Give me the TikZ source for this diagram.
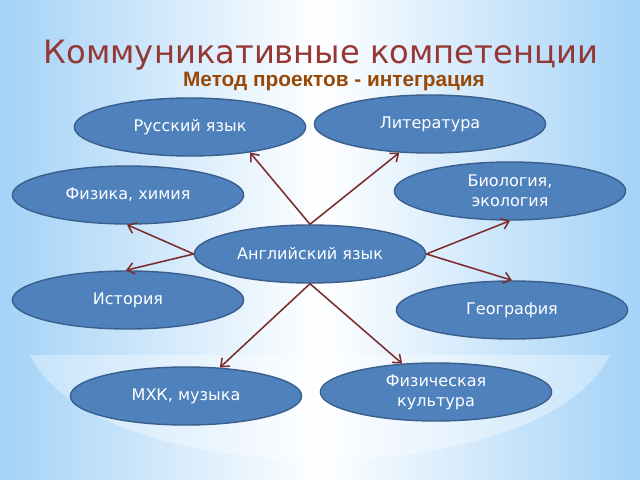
\documentclass[tikz,border=0pt]{standalone}
\usepackage{fontspec}
\setmainfont{DejaVu Sans}
\newfontfamily\subfont{Liberation Sans}
\usepackage{tikz}
\usetikzlibrary{arrows.meta,shapes.geometric}

\definecolor{skyblue}{HTML}{A3D2F7}
\definecolor{ovalfill}{HTML}{4F81BD}
\definecolor{ovaldraw}{HTML}{3A5F8C}
\definecolor{titlered}{HTML}{953735}
\definecolor{subbrown}{HTML}{984807}
\definecolor{arrowred}{HTML}{7B2C2C}

\tikzset{
  oval/.style={ellipse, fill=ovalfill, draw=ovaldraw, line width=1pt,
    minimum width=5.78cm, minimum height=1.45cm, inner sep=0pt,
    text=white, font=\fontsize{11.4}{14}\selectfont, align=center},
  link/.style={draw=arrowred, line width=1.1pt, -{Straight Barb[length=5pt,width=8pt]}}
}

\begin{document}
\begin{tikzpicture}[x=0.025cm, y=-0.025cm]
      \useasboundingbox (0, 0) rectangle (640, 480);
      % background
      \shade[left color=skyblue, right color=skyblue, middle color=white] (0, 0) rectangle (640, 480);
      \shade[left color=skyblue!60, right color=skyblue!60, middle color=white]
        (30, 355) .. controls (100, 495) and (540, 495) .. (610, 355) -- cycle;
      % titles
      \node[text=titlered, font=\fontsize{22.9}{27}\selectfont, inner sep=0pt, text depth=0pt, anchor=base]
        (title) at (321, 64) {Коммуникативные компетенции};
      \node[text=subbrown, font=\subfont\bfseries\fontsize{14.8}{17}\selectfont, inner sep=0pt, anchor=base]
        (sub) at (334, 86) {Метод проектов - интеграция};
      % ovals
      \node[oval] (rus) at (190, 127) {Русский язык};
      \node[oval] (lit) at (430, 124) {Литература};
      \node[oval] (phys) at (128, 195) {Физика, химия};
      \node[oval] (bio) at (510, 191) {Биология,\\экология};
      \node[oval] (eng) at (310, 254) {Английский язык};
      \node[oval] (hist) at (128, 300) {История};
      \node[oval] (geo) at (512, 310) {География};
      \node[oval] (mhk) at (186, 396) {МХК, музыка};
      \node[oval] (sport) at (436, 392) {Физическая\\культура};
      % arrows
      \draw[link] (eng.north) -- (rus.-23);
      \draw[link] (eng.north) -- (lit.223);
      \draw[link] (eng.west) -- (phys.268);
      \draw[link] (eng.west) -- (hist.94);
      \draw[link] (eng.east) -- (bio.south);
      \draw[link] (eng.east) -- (geo.north);
      \draw[link] (eng.south) -- (mhk.40);
      \draw[link] (eng.south) -- (sport.140);
    \end{tikzpicture}
\end{document}
